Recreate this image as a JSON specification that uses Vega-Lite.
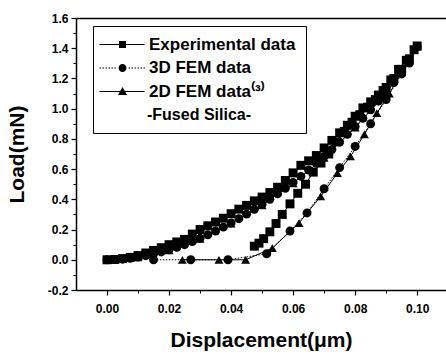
{
  "$schema": "https://vega.github.io/schema/vega-lite/v6.json",
  "width": 370,
  "height": 272,
  "autosize": "none",
  "padding": {"left": 76, "top": 18, "right": 0, "bottom": 64},
  "background": "white",
  "config": {"view": {"stroke": null}},
  "data": {"values": [
    {"s":"E","i":0,"x":0,"y":0},{"s":"E","i":1,"x":0.0025,"y":0.002},{"s":"E","i":2,"x":0.005,"y":0.008},{"s":"E","i":3,"x":0.0075,"y":0.016},{"s":"E","i":4,"x":0.01,"y":0.028},{"s":"E","i":5,"x":0.0125,"y":0.045},{"s":"E","i":6,"x":0.015,"y":0.062},{"s":"E","i":7,"x":0.0175,"y":0.08},{"s":"E","i":8,"x":0.02,"y":0.1},{"s":"E","i":9,"x":0.0225,"y":0.118},{"s":"E","i":10,"x":0.025,"y":0.135},{"s":"E","i":11,"x":0.0275,"y":0.17},{"s":"E","i":12,"x":0.03,"y":0.2},{"s":"E","i":13,"x":0.0325,"y":0.225},{"s":"E","i":14,"x":0.035,"y":0.25},{"s":"E","i":15,"x":0.0375,"y":0.275},{"s":"E","i":16,"x":0.04,"y":0.305},{"s":"E","i":17,"x":0.0425,"y":0.335},{"s":"E","i":18,"x":0.045,"y":0.36},{"s":"E","i":19,"x":0.0475,"y":0.39},{"s":"E","i":20,"x":0.05,"y":0.415},{"s":"E","i":21,"x":0.0525,"y":0.445},{"s":"E","i":22,"x":0.055,"y":0.48},{"s":"E","i":23,"x":0.0575,"y":0.525},{"s":"E","i":24,"x":0.06,"y":0.575},{"s":"E","i":25,"x":0.0625,"y":0.625},{"s":"E","i":26,"x":0.065,"y":0.655},{"s":"E","i":27,"x":0.0675,"y":0.69},{"s":"E","i":28,"x":0.07,"y":0.74},{"s":"E","i":29,"x":0.0725,"y":0.79},{"s":"E","i":30,"x":0.075,"y":0.84},{"s":"E","i":31,"x":0.0775,"y":0.89},{"s":"E","i":32,"x":0.08,"y":0.95},{"s":"E","i":33,"x":0.0825,"y":1.005},{"s":"E","i":34,"x":0.085,"y":1.045},{"s":"E","i":35,"x":0.0875,"y":1.09},{"s":"E","i":36,"x":0.09,"y":1.14},{"s":"E","i":37,"x":0.0925,"y":1.2},{"s":"E","i":38,"x":0.095,"y":1.26},{"s":"E","i":39,"x":0.0975,"y":1.33},{"s":"E","i":40,"x":0.1,"y":1.415},
    {"s":"E","i":41,"x":0.099,"y":1.39},{"s":"E","i":42,"x":0.0965,"y":1.32},{"s":"E","i":43,"x":0.094,"y":1.26},{"s":"E","i":44,"x":0.0915,"y":1.19},{"s":"E","i":45,"x":0.089,"y":1.12},{"s":"E","i":46,"x":0.0865,"y":1.06},{"s":"E","i":47,"x":0.084,"y":1.01},{"s":"E","i":48,"x":0.0815,"y":0.96},{"s":"E","i":49,"x":0.079,"y":0.91},{"s":"E","i":50,"x":0.0765,"y":0.85},{"s":"E","i":51,"x":0.074,"y":0.78},{"s":"E","i":52,"x":0.0715,"y":0.7},{"s":"E","i":53,"x":0.069,"y":0.64},{"s":"E","i":54,"x":0.0665,"y":0.58},{"s":"E","i":55,"x":0.064,"y":0.5},{"s":"E","i":56,"x":0.0615,"y":0.44},{"s":"E","i":57,"x":0.059,"y":0.37},{"s":"E","i":58,"x":0.0565,"y":0.3},{"s":"E","i":59,"x":0.0545,"y":0.24},{"s":"E","i":60,"x":0.0525,"y":0.185},{"s":"E","i":61,"x":0.0505,"y":0.14},{"s":"E","i":62,"x":0.049,"y":0.11},{"s":"E","i":63,"x":0.0475,"y":0.09},
    {"s":"D3","i":0,"x":0,"y":0},{"s":"D3","i":1,"x":0.0025,"y":0.001},{"s":"D3","i":2,"x":0.005,"y":0.004},{"s":"D3","i":3,"x":0.0075,"y":0.01},{"s":"D3","i":4,"x":0.01,"y":0.018},{"s":"D3","i":5,"x":0.0125,"y":0.027},{"s":"D3","i":6,"x":0.015,"y":0.038},{"s":"D3","i":7,"x":0.0175,"y":0.052},{"s":"D3","i":8,"x":0.02,"y":0.066},{"s":"D3","i":9,"x":0.0225,"y":0.082},{"s":"D3","i":10,"x":0.025,"y":0.1},{"s":"D3","i":11,"x":0.0275,"y":0.12},{"s":"D3","i":12,"x":0.03,"y":0.142},{"s":"D3","i":13,"x":0.0325,"y":0.165},{"s":"D3","i":14,"x":0.035,"y":0.19},{"s":"D3","i":15,"x":0.0375,"y":0.216},{"s":"D3","i":16,"x":0.04,"y":0.244},{"s":"D3","i":17,"x":0.0425,"y":0.272},{"s":"D3","i":18,"x":0.045,"y":0.302},{"s":"D3","i":19,"x":0.0475,"y":0.334},{"s":"D3","i":20,"x":0.05,"y":0.366},{"s":"D3","i":21,"x":0.0525,"y":0.4},{"s":"D3","i":22,"x":0.055,"y":0.436},{"s":"D3","i":23,"x":0.0575,"y":0.473},{"s":"D3","i":24,"x":0.06,"y":0.512},{"s":"D3","i":25,"x":0.0625,"y":0.552},{"s":"D3","i":26,"x":0.065,"y":0.594},{"s":"D3","i":27,"x":0.0675,"y":0.638},{"s":"D3","i":28,"x":0.07,"y":0.683},{"s":"D3","i":29,"x":0.0725,"y":0.73},{"s":"D3","i":30,"x":0.075,"y":0.779},{"s":"D3","i":31,"x":0.0775,"y":0.83},{"s":"D3","i":32,"x":0.08,"y":0.882},{"s":"D3","i":33,"x":0.0825,"y":0.936},{"s":"D3","i":34,"x":0.085,"y":0.992},{"s":"D3","i":35,"x":0.0875,"y":1.05},{"s":"D3","i":36,"x":0.09,"y":1.11},{"s":"D3","i":37,"x":0.0925,"y":1.172},{"s":"D3","i":38,"x":0.095,"y":1.236},{"s":"D3","i":39,"x":0.0975,"y":1.302},{"s":"D3","i":40,"x":0.1,"y":1.41},
    {"s":"D3","i":41,"x":0.095,"y":1.23},{"s":"D3","i":42,"x":0.09,"y":1.06},{"s":"D3","i":43,"x":0.085,"y":0.9},{"s":"D3","i":44,"x":0.08,"y":0.75},{"s":"D3","i":45,"x":0.075,"y":0.61},{"s":"D3","i":46,"x":0.07,"y":0.47},{"s":"D3","i":47,"x":0.0645,"y":0.31},{"s":"D3","i":48,"x":0.059,"y":0.19},{"s":"D3","i":49,"x":0.0515,"y":0.04},{"s":"D3","i":50,"x":0.039,"y":0},{"s":"D3","i":51,"x":0.027,"y":0},{"s":"D3","i":52,"x":0.015,"y":0},
    {"s":"D2","i":0,"x":0,"y":0},{"s":"D2","i":1,"x":0.01,"y":0.016},{"s":"D2","i":2,"x":0.02,"y":0.062},{"s":"D2","i":3,"x":0.03,"y":0.138},{"s":"D2","i":4,"x":0.04,"y":0.24},{"s":"D2","i":5,"x":0.05,"y":0.36},{"s":"D2","i":6,"x":0.06,"y":0.505},{"s":"D2","i":7,"x":0.07,"y":0.675},{"s":"D2","i":8,"x":0.08,"y":0.875},{"s":"D2","i":9,"x":0.09,"y":1.1},{"s":"D2","i":10,"x":0.1,"y":1.41},
    {"s":"D2","i":11,"x":0.095,"y":1.24},{"s":"D2","i":12,"x":0.091,"y":1.1},{"s":"D2","i":13,"x":0.087,"y":0.97},{"s":"D2","i":14,"x":0.083,"y":0.83},{"s":"D2","i":15,"x":0.0785,"y":0.684},{"s":"D2","i":16,"x":0.0743,"y":0.574},{"s":"D2","i":17,"x":0.0689,"y":0.42},{"s":"D2","i":18,"x":0.0619,"y":0.243},{"s":"D2","i":19,"x":0.0533,"y":0.077},{"s":"D2","i":20,"x":0.0447,"y":0},{"s":"D2","i":21,"x":0.0361,"y":0},{"s":"D2","i":22,"x":0.0243,"y":0}
  ]},
  "resolve": {"axis": {"x": "independent", "y": "independent"}, "scale": {"shape": "independent"}, "legend": {"shape": "independent"}},
  "layer": [
    {
      "transform": [{"filter": "datum.s === 'E'"}],
      "mark": {"type": "line", "color": "black", "strokeWidth": 1},
      "encoding": {
        "x": {"field": "x", "type": "quantitative", "scale": {"domain": [-0.01, 0.1093], "nice": false, "zero": false},
          "axis": {"orient": "bottom", "values": [0, 0.02, 0.04, 0.06, 0.08, 0.1], "format": ".2f", "grid": false, "domainColor": "black", "domainWidth": 1.5, "tickColor": "black", "tickWidth": 1.2, "tickSize": 5, "labelPadding": 8, "labelFont": "Liberation Sans", "labelFontSize": 12, "labelFontWeight": "bold", "labelColor": "black", "labelFlush": false, "labelOverlap": false, "title": "Displacement(μm)", "titleFont": "Liberation Sans", "titleFontSize": 21, "titleFontWeight": "bold", "titleColor": "black", "titlePadding": 15}},
        "y": {"field": "y", "type": "quantitative", "scale": {"domain": [-0.2, 1.6], "nice": false, "zero": false},
          "axis": {"orient": "left", "values": [-0.2, 0, 0.2, 0.4, 0.6, 0.8, 1.0, 1.2, 1.4, 1.6], "labelExpr": "datum.value < 0 ? '-' + format(-datum.value, '.1f') : format(datum.value, '.1f')", "grid": false, "domainColor": "black", "domainWidth": 1.5, "tickColor": "black", "tickWidth": 1.2, "tickSize": 5, "labelPadding": 3, "labelFont": "Liberation Sans", "labelFontSize": 12, "labelFontWeight": "bold", "labelColor": "black", "labelFlush": false, "labelOverlap": false, "title": "Load(mN)", "titleFont": "Liberation Sans", "titleFontSize": 21, "titleFontWeight": "bold", "titleColor": "black", "titlePadding": 20}},
        "order": {"field": "i", "type": "quantitative"}
      }
    },
    {
      "transform": [{"filter": "datum.s === 'D3'"}],
      "mark": {"type": "line", "color": "black", "strokeWidth": 1, "strokeDash": [1.5, 1.5]},
      "encoding": {
        "x": {"field": "x", "type": "quantitative",
          "axis": {"orient": "bottom", "values": [0.01, 0.03, 0.05, 0.07, 0.09], "labels": false, "title": null, "domain": false, "grid": false, "tickSize": 3, "tickColor": "black", "tickWidth": 1}},
        "y": {"field": "y", "type": "quantitative",
          "axis": {"orient": "left", "values": [-0.1, 0.1, 0.3, 0.5, 0.7, 0.9, 1.1, 1.3, 1.5], "labels": false, "title": null, "domain": false, "grid": false, "tickSize": 3, "tickColor": "black", "tickWidth": 1}},
        "order": {"field": "i", "type": "quantitative"}
      }
    },
    {
      "transform": [{"filter": "datum.s === 'D2'"}],
      "mark": {"type": "line", "color": "black", "strokeWidth": 1},
      "encoding": {
        "x": {"field": "x", "type": "quantitative",
          "axis": {"orient": "top", "labels": false, "ticks": false, "title": null, "grid": false, "domainColor": "black", "domainWidth": 1.5}},
        "y": {"field": "y", "type": "quantitative", "axis": null},
        "order": {"field": "i", "type": "quantitative"}
      }
    },
    {
      "mark": {"type": "point", "filled": true, "color": "black", "opacity": 1, "size": 80},
      "encoding": {
        "x": {"field": "x", "type": "quantitative", "axis": null},
        "y": {"field": "y", "type": "quantitative", "axis": null},
        "shape": {"field": "s", "type": "nominal", "scale": {"domain": ["E", "D3", "D2"], "range": ["square", "circle", "triangle-up"]}, "legend": null}
      }
    },
    {
      "transform": [{"filter": "datum.x > 1"}],
      "mark": {"type": "point", "filled": true, "color": "black", "opacity": 1},
      "encoding": {
        "x": {"field": "x", "type": "quantitative", "axis": null},
        "y": {"field": "y", "type": "quantitative", "axis": null},
        "shape": {"field": "s", "type": "nominal",
          "scale": {"domain": ["E", "D3", "D2"], "range": [
            "M-12,-0.6H33V0.6H-12ZM7.5,-3.5H14.5V3.5H7.5Z",
            "M-12,-0.5H-10.5V0.5H-12ZM-9,-0.5H-7.5V0.5H-9ZM-6,-0.5H-4.5V0.5H-6ZM-3,-0.5H-1.5V0.5H-3ZM0,-0.5H1.5V0.5H0ZM3,-0.5H4.5V0.5H3ZM7,0A4,4 0 1,1 15,0A4,4 0 1,1 7,0ZM17,-0.5H18.5V0.5H17ZM20,-0.5H21.5V0.5H20ZM23,-0.5H24.5V0.5H23ZM26,-0.5H27.5V0.5H26ZM29,-0.5H30.5V0.5H29ZM32,-0.5H33.5V0.5H32Z",
            "M-12,-0.6H33V0.6H-12ZM11,-4.5L15.5,3.5H6.5Z"
          ]},
          "legend": {
            "orient": "none", "legendX": 17, "legendY": 8,
            "title": "-Fused Silica-", "titleOrient": "bottom", "titleAnchor": "middle", "titleFont": "Liberation Sans", "titleFontSize": 16, "titleFontWeight": "bold", "titleColor": "black", "titlePadding": 7, "titleLimit": 300,
            "labelFont": "Liberation Sans", "labelFontSize": 17, "labelFontWeight": "bold", "labelColor": "black", "labelLimit": 300,
            "labelExpr": "datum.value === 'E' ? 'Experimental data' : datum.value === 'D3' ? '3D FEM data' : '2D FEM data\u207d\u00b3\u207e'",
            "labelOffset": 29, "symbolSize": 4, "rowPadding": 5.5, "padding": 10,
            "strokeColor": "black", "fillColor": "white",
            "symbolFillColor": "black", "symbolStrokeColor": "black", "symbolStrokeWidth": 0
          }
        }
      }
    }
  ]
}
